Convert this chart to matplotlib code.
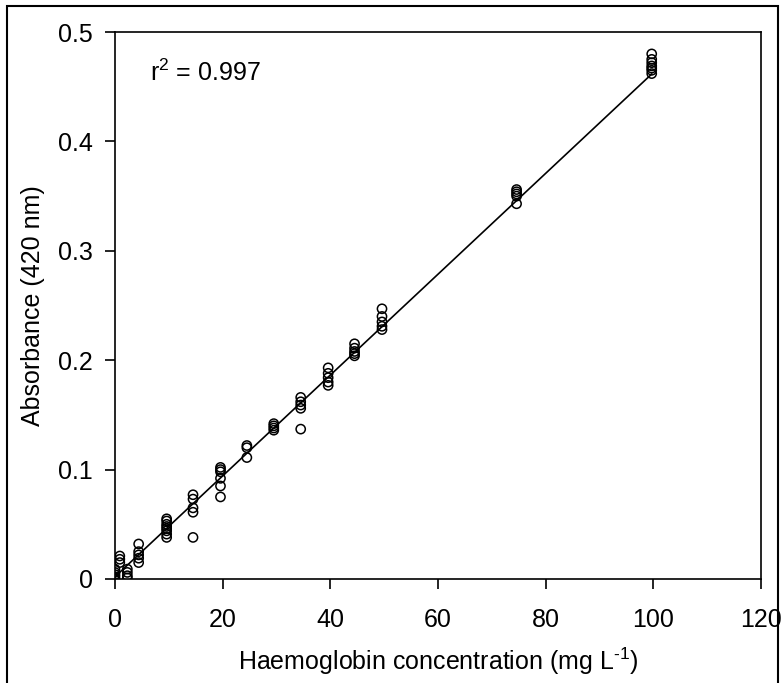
import numpy as np
import matplotlib
matplotlib.use("Agg")
import matplotlib.pyplot as plt
from matplotlib.patches import Rectangle
from matplotlib.ticker import FuncFormatter

plt.rcParams['font.family'] = ['Liberation Sans', 'DejaVu Sans']
plt.rcParams['mathtext.default'] = 'regular'

# concentration levels (mg/L) and replicate absorbances
conc = [0.0, 0.9, 2.3, 4.4, 9.6, 14.5, 19.6, 24.5, 29.5, 34.5, 39.6, 44.5, 49.6, 74.6, 99.7]
absorb = [
    [0.009, 0.006, 0.004, 0.002, 0.000],
    [0.021, 0.018, 0.015],
    [0.009, 0.006, 0.003, 0.001],
    [0.032, 0.025, 0.022, 0.019, 0.015],
    [0.055, 0.053, 0.050, 0.048, 0.046, 0.044, 0.041, 0.038],
    [0.077, 0.073, 0.065, 0.061, 0.038],
    [0.102, 0.100, 0.098, 0.092, 0.085, 0.075],
    [0.122, 0.120, 0.111],
    [0.142, 0.140, 0.138, 0.136],
    [0.166, 0.162, 0.159, 0.156, 0.137],
    [0.193, 0.188, 0.184, 0.180, 0.177],
    [0.215, 0.211, 0.208, 0.206, 0.204],
    [0.247, 0.240, 0.235, 0.231, 0.228],
    [0.356, 0.354, 0.352, 0.350, 0.343],
    [0.480, 0.475, 0.472, 0.469, 0.467, 0.465, 0.462],
]
# regression line as drawn in the figure
fit_slope = 0.00461
fit_intercept = 0.002
r2_text = "r$^2$ = 0.997"

x = np.concatenate([[c] * len(a) for c, a in zip(conc, absorb)])
y = np.concatenate(absorb)

fig = plt.figure(figsize=(7.81, 6.83), dpi=100)
ax = fig.add_axes([0.1472, 0.1523, 0.8272, 0.8008])

xl = np.array([0, x.max()])
ax.plot(xl, fit_slope * xl + fit_intercept, color='black', lw=1.2, zorder=1)
ax.scatter(x, y, s=44, facecolors='none', edgecolors='black', linewidths=1.1, zorder=2)

ax.set_xlim(0, 120)
ax.set_ylim(0, 0.5)
ax.set_xticks(np.arange(0, 121, 20))
ax.set_yticks(np.arange(0, 0.51, 0.1))
ax.yaxis.set_major_formatter(FuncFormatter(lambda v, p: '0' if abs(v) < 1e-9 else f'{v:.1f}'))
ax.tick_params(direction='out', length=7, width=1.2, labelsize=18, top=False, right=False)
ax.tick_params(axis='x', pad=14)
ax.tick_params(axis='y', pad=9)
for s in ax.spines.values():
    s.set_linewidth(1.2)

ax.set_xlabel("Haemoglobin concentration (mg L$^{\u2010" + "1}$)", fontsize=18, labelpad=10)
ax.set_ylabel("Absorbance (420 nm)", fontsize=18, labelpad=9)
ax.text(6.5, 0.455, r2_text, fontsize=18, va='baseline', ha='left')

fig.patches.append(Rectangle((7 / 781, -0.1), 771 / 781, 1.1 - 6 / 683, transform=fig.transFigure,
                             fill=False, edgecolor='black', lw=1.5))

fig.savefig("out.png", dpi=100)
